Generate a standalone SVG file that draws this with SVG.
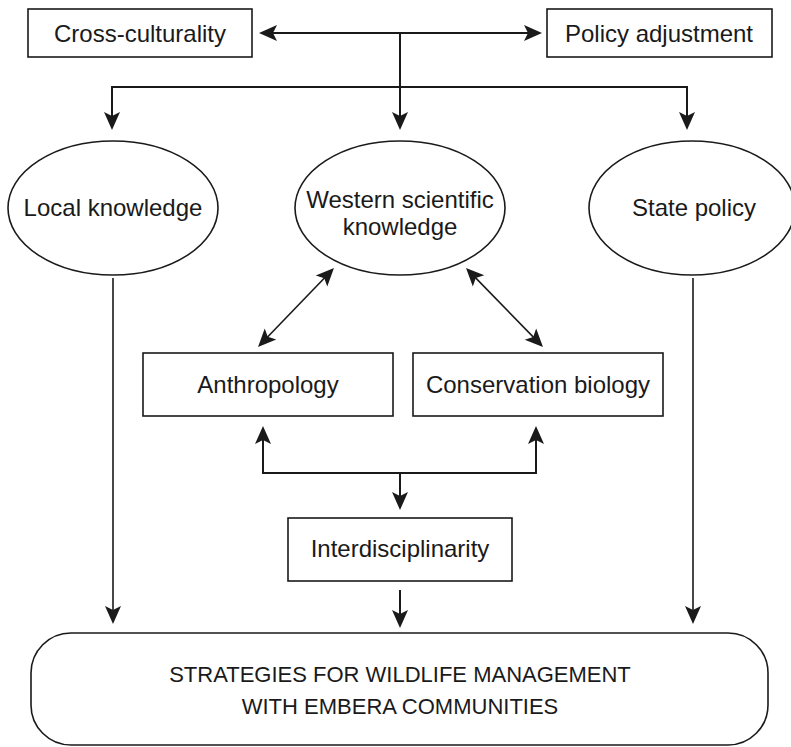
<svg xmlns="http://www.w3.org/2000/svg" width="791" height="747" viewBox="0 0 791 747">
<style>
.box{fill:#fff;stroke:#1a1a1a;stroke-width:1.6}
.t{font-family:"Liberation Sans",Arial,sans-serif;font-size:24px;fill:#1a1a1a;text-anchor:middle}
.tb{font-family:"Liberation Sans",Arial,sans-serif;font-size:22px;fill:#1a1a1a;text-anchor:middle}
.c{fill:none;stroke:#1a1a1a;stroke-width:1.6}
.c2{fill:none;stroke:#1a1a1a;stroke-width:2}
</style>
<defs>
<marker id="ah" viewBox="-19 -9 19 18" refX="-3" refY="0" markerWidth="19" markerHeight="18" markerUnits="userSpaceOnUse" orient="auto-start-reverse">
<path d="M0,0 L-18,-8 L-14,0 L-18,8 Z" fill="#1a1a1a"/>
</marker>
</defs>
<g id="connectors">
<path class="c2" d="M262,33 H539" marker-start="url(#ah)" marker-end="url(#ah)"/>
<path class="c2" d="M400,33 V127" marker-end="url(#ah)"/>
<path class="c2" d="M112,127 V87 H687 V127" marker-start="url(#ah)" marker-end="url(#ah)"/>
<path class="c" d="M113,278 V621" marker-end="url(#ah)"/>
<path class="c" d="M693,278 V621" marker-end="url(#ah)"/>
<path class="c" d="M331.9,270.2 L260.1,344.8" marker-start="url(#ah)" marker-end="url(#ah)"/>
<path class="c" d="M468.1,270.1 L540.9,344.9" marker-start="url(#ah)" marker-end="url(#ah)"/>
<path class="c2" d="M263,429 V473 H536 V429" marker-start="url(#ah)" marker-end="url(#ah)"/>
<path class="c2" d="M400,473 V507" marker-end="url(#ah)"/>
<path class="c2" d="M400,590 V625" marker-end="url(#ah)"/>
</g>
<g id="cross-culturality">
<rect class="box" x="28" y="9" width="224" height="48"/>
<text class="t" x="140" y="42">Cross-culturality</text>
</g>
<g id="policy-adjustment">
<rect class="box" x="547" y="9" width="225" height="48"/>
<text class="t" x="659" y="42">Policy adjustment</text>
</g>
<g id="local-knowledge">
<ellipse class="box" cx="113" cy="208" rx="105" ry="67"/>
<text class="t" x="113" y="216">Local knowledge</text>
</g>
<g id="western-knowledge">
<ellipse class="box" cx="400" cy="208" rx="105" ry="67"/>
<text class="t" x="400" y="208">Western scientific</text>
<text class="t" x="400" y="235">knowledge</text>
</g>
<g id="state-policy">
<ellipse class="box" cx="692" cy="208" rx="103" ry="67"/>
<text class="t" x="694" y="216">State policy</text>
</g>
<g id="anthropology">
<rect class="box" x="143" y="353" width="250" height="63"/>
<text class="t" x="268" y="393">Anthropology</text>
</g>
<g id="conservation-biology">
<rect class="box" x="413" y="353" width="250" height="63"/>
<text class="t" x="538" y="393">Conservation biology</text>
</g>
<g id="interdisciplinarity">
<rect class="box" x="288" y="518" width="224" height="63"/>
<text class="t" x="400" y="557">Interdisciplinarity</text>
</g>
<g id="strategies">
<rect class="box" x="31" y="633" width="737" height="112" rx="40" ry="40"/>
<text class="tb" x="400" y="682">STRATEGIES FOR WILDLIFE MANAGEMENT</text>
<text class="tb" x="400" y="714">WITH EMBERA COMMUNITIES</text>
</g>
</svg>
